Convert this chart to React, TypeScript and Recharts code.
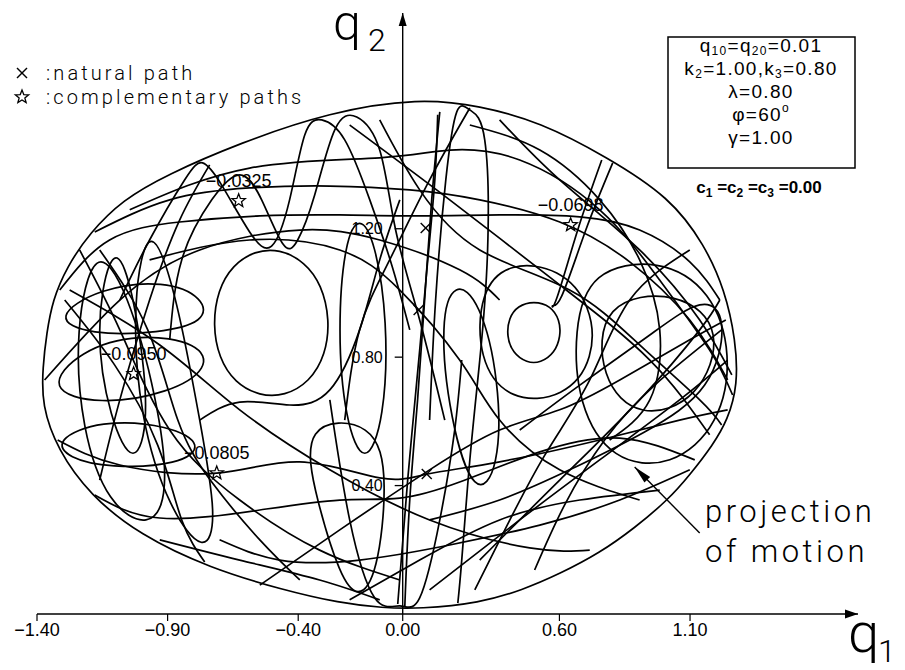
import React from 'react';
import { ScatterChart, Scatter, XAxis, YAxis, ReferenceLine, ReferenceDot } from 'recharts';

const CHART_W = 905;
const CHART_H = 670;

// q1 runs horizontally, q2 vertically; both axes end in arrowheads at the range maxima
const q1Range: [number, number] = [-1.4, 1.743];
const q2Range: [number, number] = [0, 1.872];

const q1Ticks = [-1.4, -0.9, -0.4, 0, 0.6, 1.1];
const q1TickLabels = ['−1.40', '−0.90', '−0.40', '0.00', '0.60', '1.10'];
const q2Ticks = [0.4, 0.8, 1.2];
const q2TickLabels = ['0.40', '0.80', '1.20'];

// Boundary of the region reachable by the motion (closed)
const boundary = [
  [0.065, 1.607], [0.295, 1.583], [0.525, 1.533], [0.781, 1.424], [1.022, 1.299], [1.156, 1.15],
  [1.233, 1.009], [1.275, 0.854], [1.283, 0.713], [1.244, 0.604], [1.187, 0.526], [1.099, 0.433],
  [1.015, 0.355], [0.888, 0.268], [0.754, 0.19], [0.601, 0.125], [0.459, 0.075], [0.295, 0.034],
  [0.065, 0.016], [-0.077, 0.019], [-0.241, 0.034], [-0.459, 0.075], [-0.739, 0.143], [-1.007, 0.246],
  [-1.198, 0.371], [-1.321, 0.511], [-1.382, 0.651], [-1.378, 0.769], [-1.363, 0.875], [-1.34, 0.978],
  [-1.286, 1.081], [-1.198, 1.187], [-1.072, 1.29], [-0.904, 1.368], [-0.624, 1.467], [-0.279, 1.564],
];

// Forbidden islands inside the region (closed)
const leftHole = [
  [-0.471, 1.137], [-0.375, 1.097], [-0.31, 1.025], [-0.279, 0.916], [-0.295, 0.807], [-0.356, 0.723],
  [-0.452, 0.679], [-0.547, 0.679], [-0.643, 0.72], [-0.704, 0.798], [-0.727, 0.9], [-0.708, 1.009],
  [-0.651, 1.087], [-0.567, 1.131],
];
const rightHole = [
  [0.502, 0.975], [0.567, 0.96], [0.601, 0.916], [0.605, 0.866], [0.582, 0.813], [0.528, 0.782],
  [0.475, 0.782], [0.421, 0.813], [0.398, 0.866], [0.406, 0.922], [0.44, 0.96],
];

// Open arcs of the projected trajectory
const arc01 = [[-1.313, 1.009], [-1.122, 1.165], [-0.854, 1.221], [-0.547, 1.24], [-0.241, 1.243], [0.065, 1.24], [0.371, 1.243], [0.678, 1.237], [0.907, 1.196], [1.099, 1.097], [1.214, 0.978]];
const arc02 = [[-1.179, 1.19], [-0.892, 1.29], [-0.586, 1.327], [-0.279, 1.333], [0.027, 1.321], [0.295, 1.29], [0.601, 1.221], [0.869, 1.097], [1.099, 0.916], [1.244, 0.729]];
const arc03 = [[-1.083, 0.978], [-0.969, 1.165], [-0.835, 1.352], [-0.766, 1.405], [-0.693, 1.336], [-0.586, 1.19], [-0.502, 1.146], [-0.433, 1.29], [-0.375, 1.492], [-0.31, 1.539], [-0.222, 1.477], [-0.126, 1.29], [-0.042, 1.087], [0.027, 0.885]];
const arc04 = [[-0.892, 0.854], [-0.846, 1.103], [-0.731, 1.29], [-0.624, 1.368], [-0.54, 1.29], [-0.459, 1.153], [-0.402, 1.165], [-0.337, 1.305], [-0.26, 1.508], [-0.176, 1.548], [-0.088, 1.445], [-0.027, 1.196], [0.065, 0.916], [0.161, 0.604]];
const arc05 = [[0.103, 0.604], [0.126, 0.978], [0.165, 1.352], [0.207, 1.564], [0.257, 1.57], [0.314, 1.477], [0.325, 1.134], [0.295, 0.791], [0.257, 0.48], [0.226, 0.168], [0.211, 0.034]];
const arc06 = [[-1.045, 1.259], [-0.586, 1.389], [-0.088, 1.421], [0.18, 1.445], [0.448, 1.414], [0.754, 1.259], [0.984, 1.04], [1.175, 0.822], [1.263, 0.682]];
const arc07 = [[-0.088, 1.539], [0.065, 1.321], [0.295, 1.134], [0.639, 1.009], [0.907, 0.838], [1.137, 0.667], [1.221, 0.589]];
const arc08 = [[0.762, 1.414], [0.67, 1.196], [0.59, 0.984], [0.574, 0.96], [0.609, 0.991], [0.701, 1.196], [0.804, 1.405]];
const arc10 = [[0.448, 0.573], [0.678, 0.713], [0.946, 0.869], [1.137, 0.963], [1.221, 0.9], [1.156, 0.713], [0.926, 0.567], [0.639, 0.449], [0.371, 0.355], [0.103, 0.293]];
const arc15 = [[-1.321, 0.542], [-1.083, 0.464], [-0.712, 0.439], [-0.394, 0.474], [-0.088, 0.424], [0.096, 0.436], [0.371, 0.474], [0.754, 0.542], [1.06, 0.604], [1.244, 0.636]];
const arc16 = [[-1.179, 0.371], [-0.93, 0.299], [-0.547, 0.324], [-0.241, 0.355], [-0.011, 0.361], [0.218, 0.411], [0.525, 0.505], [0.831, 0.548], [1.118, 0.48]];
const arc18 = [[-0.279, 0.667], [-0.203, 0.293], [-0.107, 0.05], [-0.011, 0.025], [0.065, 0.05], [0.142, 0.293], [0.199, 0.573], [0.226, 0.791]];
const arc19 = [[0.008, 0.022], [0.027, 0.355], [0.057, 0.667], [0.084, 0.978], [0.111, 1.29], [0.142, 1.564]];
const arc20 = [[-0.019, 0.031], [0.019, 0.417], [0.065, 0.822], [0.096, 1.103], [0.123, 1.352], [0.134, 1.555]];
const arc21 = [[-1.275, 1.009], [-0.93, 0.838], [-0.624, 0.636], [-0.279, 0.449], [0.103, 0.293], [0.486, 0.206], [0.716, 0.199]];
const arc22 = [[1.099, 1.134], [0.869, 0.978], [0.716, 0.729], [0.544, 0.495], [0.391, 0.262], [0.276, 0.075]];
const arc23 = [[1.221, 0.885], [0.965, 0.713], [0.773, 0.542], [0.62, 0.34], [0.505, 0.137]];
const arc24 = [[-1.16, 1.134], [-0.976, 0.885], [-0.861, 0.604], [-0.731, 0.411], [-0.547, 0.231], [-0.394, 0.106]];
const arc25 = [[-1.294, 0.978], [-1.103, 0.776], [-0.938, 0.526], [-0.846, 0.293], [-0.758, 0.162]];
const arc26 = [[-0.777, 0.604], [-0.624, 0.66], [-0.433, 0.651], [-0.279, 0.698], [-0.165, 0.885], [-0.088, 1.103], [-0.011, 1.29]];
const arc27 = [[-0.203, 1.523], [0.18, 1.29], [0.601, 1.025], [0.946, 0.791], [1.175, 0.558]];
const arc29 = [[0.257, 1.523], [0.525, 1.445], [0.754, 1.29], [0.907, 1.103], [0.984, 0.885], [0.946, 0.667], [0.792, 0.542]];
const arc31 = [[-0.969, 1.103], [-0.586, 1.165], [-0.241, 1.134], [-0.011, 1.009], [0.218, 0.791], [0.371, 0.604], [0.601, 0.449], [0.907, 0.355]];
const arc32 = [[1.099, 0.449], [0.831, 0.355], [0.525, 0.277], [0.18, 0.215], [-0.165, 0.168], [-0.471, 0.168], [-0.701, 0.231]];
const arc35 = [[-1.237, 1.134], [-1.083, 0.885], [-0.892, 0.573], [-0.624, 0.355], [-0.318, 0.199], [-0.011, 0.106]];
const arc37 = [[-0.739, 1.399], [-0.854, 1.227], [-0.969, 0.978], [-1.083, 0.667], [-1.16, 0.417]];
const arc39 = [[0.371, 1.539], [0.601, 1.352], [0.907, 1.134], [1.137, 0.916], [1.26, 0.745]];
const arc41 = [[0.295, 0.168], [0.601, 0.417], [0.907, 0.667], [1.137, 0.885], [1.214, 0.978]];
const arc42 = [[0.103, 0.075], [0.448, 0.293], [0.754, 0.48], [1.06, 0.667], [1.244, 0.791]];
const arc43 = [[-0.93, 0.231], [-0.624, 0.168], [-0.318, 0.106], [-0.088, 0.044]];
const arc44 = [[-1.371, 0.729], [-1.083, 0.978], [-0.777, 1.134], [-0.394, 1.196], [-0.088, 1.165], [0.218, 1.072], [0.371, 0.978]];
const arc47 = [[-0.203, 0.044], [0.065, 0.168], [0.371, 0.293], [0.678, 0.355], [0.984, 0.386]];
const arc48 = [[-0.547, 0.09], [-0.241, 0.262], [0.103, 0.449], [0.371, 0.573], [0.601, 0.636], [0.831, 0.729], [1.099, 0.854], [1.237, 0.916]];
const arc49 = [[0.257, 1.576], [0.103, 1.352], [-0.05, 1.103], [-0.165, 0.885], [-0.222, 0.604]];

// Closed loops of the projected trajectory
const loop09 = [[0.716, 1.072], [0.984, 1.109], [1.183, 1.009], [1.263, 0.807], [1.214, 0.589], [1.03, 0.455], [0.8, 0.474], [0.67, 0.651], [0.655, 0.885]];
const loop11 = [[-1.371, 0.698], [-1.237, 0.822], [-1.007, 0.875], [-0.777, 0.844], [-0.739, 0.766], [-0.892, 0.688], [-1.16, 0.651]];
const loop12 = [[-1.344, 0.922], [-1.16, 1.016], [-0.911, 1.04], [-0.758, 0.984], [-0.754, 0.91], [-0.93, 0.875], [-1.198, 0.869]];
const loop13 = [[-1.179, 1.165], [-1.256, 0.885], [-1.229, 0.573], [-1.129, 0.34], [-0.969, 0.262], [-0.892, 0.371], [-0.938, 0.667], [-1.053, 1.009]];
const loop14 = [[-0.969, 1.252], [-1.037, 0.978], [-1.007, 0.604], [-0.892, 0.324], [-0.758, 0.181], [-0.708, 0.293], [-0.777, 0.604], [-0.861, 0.978]];
const loop17 = [[-0.394, 0.604], [-0.325, 0.34], [-0.241, 0.121], [-0.172, 0.044], [-0.096, 0.121], [-0.057, 0.417], [-0.103, 0.604]];
const loop28 = [[0.295, 1.009], [0.41, 1.097], [0.601, 1.078], [0.724, 0.963], [0.735, 0.794], [0.62, 0.673], [0.41, 0.66], [0.287, 0.791]];
const loop34 = [[-0.222, 1.165], [-0.249, 0.885], [-0.222, 0.604], [-0.145, 0.449], [-0.069, 0.604], [-0.057, 0.916], [-0.107, 1.165], [-0.165, 1.243]];
const loop36 = [[-1.332, 0.542], [-1.16, 0.604], [-0.892, 0.589], [-0.758, 0.526], [-0.854, 0.464], [-1.122, 0.455], [-1.283, 0.486]];
const loop40 = [[0.754, 0.978], [1.06, 1.009], [1.233, 0.885], [1.137, 0.667], [0.907, 0.604], [0.754, 0.729]];
const loop45 = [[-1.122, 1.134], [-1.179, 0.885], [-1.122, 0.604], [-1.026, 0.449], [-0.969, 0.604], [-1.007, 0.885], [-1.064, 1.103]];
const loop46 = [[0.142, 0.916], [0.18, 0.604], [0.276, 0.355], [0.371, 0.449], [0.371, 0.729], [0.295, 0.978], [0.199, 1.04]];

const openArcs = [arc01, arc02, arc03, arc04, arc05, arc06, arc07, arc08, arc10, arc15, arc16, arc18, arc19, arc20, arc21, arc22, arc23, arc24, arc25, arc26, arc27, arc29, arc31, arc32, arc35, arc37, arc39, arc41, arc42, arc43, arc44, arc47, arc48, arc49];
const closedLoops = [boundary, leftHole, rightHole, loop09, loop11, loop12, loop13, loop14, loop17, loop28, loop34, loop36, loop40, loop45, loop46];

// Points marked on the natural path (×) and on complementary paths (☆, with their values)
const naturalPathMarks = [
  { x: 0.088, y: 1.202 },
  { x: 0.061, y: 0.947 },
  { x: 0.092, y: 0.436 },
];
const complementaryMarks = [
  { x: -0.628, y: 1.287, label: '−0.0325' },
  { x: 0.643, y: 1.212, label: '−0.0698' },
  { x: -1.03, y: 0.748, label: '−0.0950' },
  { x: -0.712, y: 0.439, label: '−0.0805' },
];

// Pointer from the "projection of motion" note to the trajectory
const pointerFrom = { x: 1.137, y: 0.252 };
const pointerTo = { x: 0.888, y: 0.458 };

const SANS = "'Liberation Sans', Arial, Helvetica, sans-serif";
const THIN = "Roboto, 'DejaVu Sans', sans-serif";
const INK = '#000';

const toPoints = (arr: number[][]) => arr.map(([x, y]) => ({ x, y }));

function NoMark() {
  return <g />;
}

function CrossMark(props: any) {
  const { cx, cy } = props;
  const s = 5;
  return (
    <g stroke={INK} strokeWidth={1.4}>
      <line x1={cx - s} y1={cy - s} x2={cx + s} y2={cy + s} />
      <line x1={cx - s} y1={cy + s} x2={cx + s} y2={cy - s} />
    </g>
  );
}

function starPoints(cx: number, cy: number, R: number, r: number) {
  const pts: string[] = [];
  for (let i = 0; i < 10; i++) {
    const rad = i % 2 === 0 ? R : r;
    const ang = -Math.PI / 2 + (i * Math.PI) / 5;
    pts.push(`${(cx + rad * Math.cos(ang)).toFixed(2)},${(cy + rad * Math.sin(ang)).toFixed(2)}`);
  }
  return pts.join(' ');
}

function StarMark(props: any) {
  const { cx, cy, payload } = props;
  return (
    <g>
      <polygon points={starPoints(cx, cy, 7, 3)} fill="none" stroke={INK} strokeWidth={1.3} />
      {payload && payload.label ? (
        <text x={cx} y={cy - 20} textAnchor="middle" dominantBaseline="central" fontSize={18} fontFamily={SANS} fill={INK}>
          {payload.label}
        </text>
      ) : null}
    </g>
  );
}

function RightArrowHead(props: any) {
  const { cx, cy } = props;
  return <polygon points={`${cx},${cy} ${cx - 13},${cy - 4.5} ${cx - 13},${cy + 4.5}`} fill={INK} />;
}

function UpArrowHead(props: any) {
  const { cx, cy } = props;
  return <polygon points={`${cx},${cy} ${cx - 4},${cy + 13} ${cx + 4},${cy + 13}`} fill={INK} />;
}

function PointerHead(props: any) {
  const { cx, cy } = props;
  return (
    <polygon
      points={`${cx},${cy} ${cx - 18},${cy - 4} ${cx - 18},${cy + 4}`}
      fill={INK}
      transform={`rotate(225.4 ${cx} ${cy})`}
    />
  );
}

function makeQ2Tick(label: string) {
  return function Q2Tick(props: any) {
    const { cx, cy } = props;
    return (
      <g>
        <line x1={cx - 8} y1={cy} x2={cx} y2={cy} stroke={INK} strokeWidth={1.3} />
        <text x={cx - 20} y={cy} textAnchor="end" dominantBaseline="central" fontSize={16} fontFamily={SANS} fill={INK}>
          {label}
        </text>
      </g>
    );
  };
}

const lineStyle = { stroke: INK, strokeWidth: 1.7 };

export default function App() {
  return (
    <div style={{ position: 'absolute', left: 0, top: 0, width: CHART_W, height: CHART_H, background: '#fff' }}>
      <ScatterChart width={CHART_W} height={CHART_H} margin={{ top: 13, right: 47, bottom: 16, left: 37 }}>
        <XAxis
          type="number"
          dataKey="x"
          domain={q1Range}
          allowDataOverflow
          ticks={q1Ticks}
          interval={0}
          tickFormatter={(v: number) => q1TickLabels[q1Ticks.indexOf(v)] ?? ''}
          axisLine={{ stroke: INK, strokeWidth: 1.4 }}
          tickLine={{ stroke: INK, strokeWidth: 1.2 }}
          tickSize={7}
          tickMargin={2}
          tick={{ fill: INK, fontSize: 18, fontFamily: SANS }}
          height={40}
        />
        <YAxis type="number" dataKey="y" domain={q2Range} allowDataOverflow hide />

        <ReferenceLine x={0} stroke={INK} strokeWidth={1.4} ifOverflow="visible" />

        {closedLoops.map((loop, i) => (
          <Scatter
            key={`loop-${i}`}
            data={toPoints(loop)}
            fill={INK}
            line={lineStyle}
            lineType="joint"
            lineJointType="basisClosed"
            shape={NoMark}
            isAnimationActive={false}
          />
        ))}
        {openArcs.map((arc, i) => (
          <Scatter
            key={`arc-${i}`}
            data={toPoints(arc)}
            fill={INK}
            line={lineStyle}
            lineType="joint"
            lineJointType="natural"
            shape={NoMark}
            isAnimationActive={false}
          />
        ))}

        <Scatter data={naturalPathMarks} fill={INK} shape={CrossMark} isAnimationActive={false} />
        <Scatter data={complementaryMarks} fill={INK} shape={StarMark} isAnimationActive={false} />

        {q2Ticks.map((v, i) => (
          <ReferenceDot key={`q2t-${v}`} x={0} y={v} ifOverflow="visible" shape={makeQ2Tick(q2TickLabels[i])} />
        ))}

        <ReferenceDot x={q1Range[1]} y={0} ifOverflow="visible" shape={RightArrowHead} />
        <ReferenceDot x={0} y={q2Range[1]} ifOverflow="visible" shape={UpArrowHead} />

        <ReferenceLine
          segment={[pointerFrom, pointerTo]}
          stroke={INK}
          strokeWidth={1.4}
          ifOverflow="visible"
        />
        <ReferenceDot x={pointerTo.x} y={pointerTo.y} ifOverflow="visible" shape={PointerHead} />
      </ScatterChart>

      <svg
        width={CHART_W}
        height={CHART_H}
        style={{ position: 'absolute', left: 0, top: 0, pointerEvents: 'none' }}
      >
        {/* axis names */}
        <text x={333} y={40} fontSize={50} fontFamily={THIN} fontWeight={300} fill={INK}>q</text>
        <text x={368} y={51} fontSize={32} fontFamily={THIN} fontWeight={300} fill={INK}>2</text>
        <text x={848} y={652} fontSize={56} fontFamily={THIN} fontWeight={300} fill={INK}>q</text>
        <text x={878} y={662} fontSize={32} fontFamily={THIN} fontWeight={300} fill={INK}>1</text>

        {/* legend */}
        <CrossMark cx={22} cy={73} />
        <text x={46} y={80} fontSize={20} fontFamily={THIN} fontWeight={300} letterSpacing={3.1} fill={INK}>:natural path</text>
        <polygon points={starPoints(22, 97, 7, 3)} fill="none" stroke={INK} strokeWidth={1.3} />
        <text x={46} y={104} fontSize={20} fontFamily={THIN} fontWeight={300} letterSpacing={3.1} fill={INK}>:complementary paths</text>

        {/* parameter box */}
        <rect x={668} y={37} width={187} height={131} fill="none" stroke={INK} strokeWidth={1.5} />
        <g fontFamily={SANS} fontSize={19} fill={INK} textAnchor="middle" letterSpacing={1.3}>
          <text x={761} y={52}>
            q<tspan fontSize={12} dy={3}>10</tspan>
            <tspan dy={-3}>=q</tspan>
            <tspan fontSize={12} dy={3}>20</tspan>
            <tspan dy={-3}>=0.01</tspan>
          </text>
          <text x={761} y={75}>
            k<tspan fontSize={12} dy={3}>2</tspan>
            <tspan dy={-3}>=1.00,k</tspan>
            <tspan fontSize={12} dy={3}>3</tspan>
            <tspan dy={-3}>=0.80</tspan>
          </text>
          <text x={761} y={98}>λ=0.80</text>
          <text x={761} y={121}>
            φ=60<tspan fontSize={12} dy={-9}>o</tspan>
          </text>
          <text x={761} y={144}>γ=1.00</text>
        </g>
        <text x={759} y={193} textAnchor="middle" fontFamily={SANS} fontWeight="bold" fontSize={17} fill={INK}>
          c<tspan fontSize={12} dy={4}>1</tspan>
          <tspan dy={-4}> =c</tspan>
          <tspan fontSize={12} dy={4}>2</tspan>
          <tspan dy={-4}> =c</tspan>
          <tspan fontSize={12} dy={4}>3</tspan>
          <tspan dy={-4}> =0.00</tspan>
        </text>

        {/* note */}
        <text x={705} y={522} fontSize={31} fontFamily={THIN} fontWeight={300} letterSpacing={3.5} fill={INK}>projection</text>
        <text x={705} y={562} fontSize={31} fontFamily={THIN} fontWeight={300} letterSpacing={3.5} fill={INK}>of motion</text>
      </svg>
    </div>
  );
}
